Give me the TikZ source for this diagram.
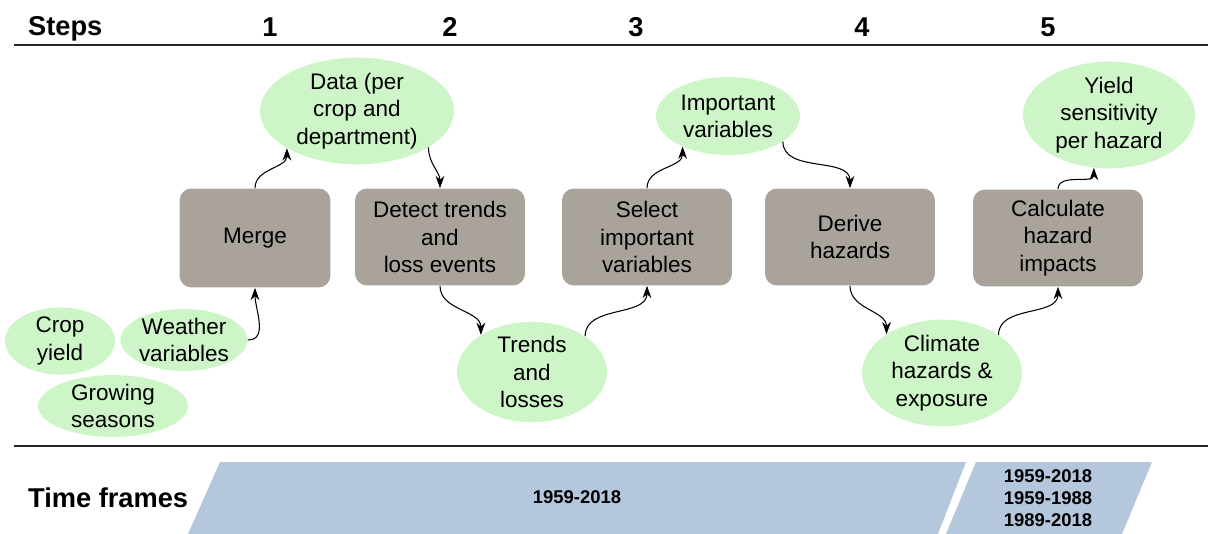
\documentclass[tikz,border=0pt]{standalone}
\usepackage{fontspec}
\setmainfont{Liberation Sans}
\usetikzlibrary{shapes.geometric,arrows.meta}
\definecolor{blobgreen}{RGB}{205,245,199}
\definecolor{boxgrey}{RGB}{170,163,156}
\definecolor{frameblue}{RGB}{181,199,220}
\begin{document}
\begin{tikzpicture}[x=0.02cm,y=-0.02cm,
  blob/.style={ellipse,fill=blobgreen,align=center,inner sep=0pt,font=\fontsize{12.8}{15.5}\selectfont},
  task/.style={rectangle,rounded corners=0.24cm,fill=boxgrey,align=center,minimum width=3.4cm,minimum height=1.94cm,font=\fontsize{12.8}{15.5}\selectfont},
  flow/.style={-{Stealth[length=7pt,width=5pt]},line width=0.6pt},
  head/.style={font=\fontsize{15.5}{18}\selectfont\bfseries,anchor=base},
  years/.style={font=\fontsize{10.5}{12.5}\selectfont\bfseries,align=center}]
\useasboundingbox (0,0) rectangle (1208,534);
\node[head,anchor=base west] (steps) at (22,35) {Steps};
\node[head] (s1) at (270,36) {1};
\node[head] (s2) at (450,36) {2};
\node[head] (s3) at (636,36) {3};
\node[head] (s4) at (862,36) {4};
\node[head] (s5) at (1048,36) {5};
\draw[line width=1.1pt,black!85] (14,45) -- (1208,45);
\draw[line width=1.1pt,black!85] (14,446) -- (1208,446);

\node[blob,minimum width=2.2cm,minimum height=1.16cm] (crop) at (60,341) {Crop\\yield};
\node[blob,minimum width=2.4cm,minimum height=1.2cm] (weather) at (184,340) {Weather\\variables};
\node[blob,minimum width=3cm,minimum height=1.12cm] (seasons) at (113,406) {Growing\\seasons};
\node[blob,minimum width=3.88cm,minimum height=1.72cm] (data) at (357,111) {Data (per\\crop and\\department)};
\node[blob,minimum width=3cm,minimum height=1.72cm] (trends) at (532,372) {Trends\\and\\losses};
\node[blob,minimum width=2.88cm,minimum height=1.56cm] (important) at (728,116) {Important\\variables};
\node[blob,minimum width=3.2cm,minimum height=1.72cm] (climate) at (942,373) {Climate\\hazards \&\\exposure};
\node[blob,minimum width=3.44cm,minimum height=1.72cm] (yield) at (1109,115) {Yield\\sensitivity\\per hazard};

\node[task,minimum width=3.02cm,minimum height=1.98cm] (merge) at (255,238) {Merge};
\node[task] (detect) at (440,237) {Detect trends\\and\\loss events};
\node[task] (select) at (647,237) {Select\\important\\variables};
\node[task] (derive) at (850,237) {Derive\\hazards};
\node[task] (calc) at (1058,238) {Calculate\\hazard\\impacts};

\draw[flow] (weather.east) to[out=0,in=-90] (merge.south);
\draw[flow] (merge.north) to[out=90,in=-90] (data.208);
\draw[flow] (data.-27) to[out=-90,in=90] (detect.north);
\draw[flow] (detect.south) to[out=-90,in=90] (trends.144);
\draw[flow] (trends.34) to[out=90,in=-90] (select.south);
\draw[flow] (select.north) to[out=90,in=-90] (important.-146);
\draw[flow] (important.-25) to[out=-90,in=90] (derive.north);
\draw[flow] (derive.south) to[out=-90,in=90] (climate.145);
\draw[flow] (climate.34) to[out=90,in=-90] (calc.south);
\draw[flow] (calc.north) to[out=90,in=-90] (yield.-106);

\fill[frameblue] (220,462) -- (966,462) -- (938,534) -- (188,534) -- cycle;
\fill[frameblue] (976,462) -- (1152,462) -- (1122,534) -- (946,534) -- cycle;
\node[head,anchor=base west] (frames) at (22,507) {Time frames};
\node[years] (all) at (577,497) {1959-2018};
\node[years] (split) at (1048,498) {1959-2018\\1959-1988\\1989-2018};
\end{tikzpicture}
\end{document}
